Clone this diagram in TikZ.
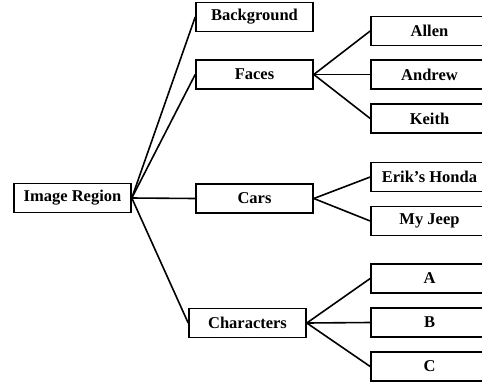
\documentclass[tikz,border=0pt]{standalone}
\usepackage{fontspec}
\setmainfont{Liberation Serif}
\usetikzlibrary{positioning}

\begin{document}
\begin{tikzpicture}[x=1pt,y=-1pt,line width=1.6pt,
    box/.style={rectangle,
        draw,
        minimum width = 117pt,
        minimum height = 29pt,
        inner sep=0pt,
        font=\fontsize{16.5}{19}\selectfont\bfseries}]

  \clip (0,0) rectangle (482,381);

  % root
  \node[box] (img) at (72.5,198) {Image Region};

  % first level
  \node[box] (bg) at (254.5,17) {Background};
  \node[box] (faces) at (254.5,74.5) {Faces};
  \node[box] (cars) at (254.5,198.5) {Cars};
  \node[box] (chars) at (247.5,323) {Characters};

  % second level
  \node[box] (allen) at (429.5,31) {Allen};
  \node[box] (andrew) at (429.5,74.5) {Andrew};
  \node[box] (keith) at (429.5,118.5) {Keith};

  \node[box] (erik) at (429.5,177) {Erik's Honda};
  \node[box] (jeep) at (429.5,221) {My Jeep};

  \node[box] (a) at (429.5,278.5) {A};
  \node[box] (b) at (429.5,322.5) {B};
  \node[box] (c) at (429.5,366.5) {C};

  \path
  (img.east) edge (bg.west)
  (img.east) edge (faces.west)
  (img.east) edge (cars.west)
  (img.east) edge (chars.west)
  (faces.east) edge (allen.west)
  (faces.east) edge (andrew.west)
  (faces.east) edge (keith.west)
  (cars.east) edge (erik.west)
  (cars.east) edge (jeep.west)
  (chars.east) edge (a.west)
  (chars.east) edge (b.west)
  (chars.east) edge (c.west);

\end{tikzpicture}
\end{document}
